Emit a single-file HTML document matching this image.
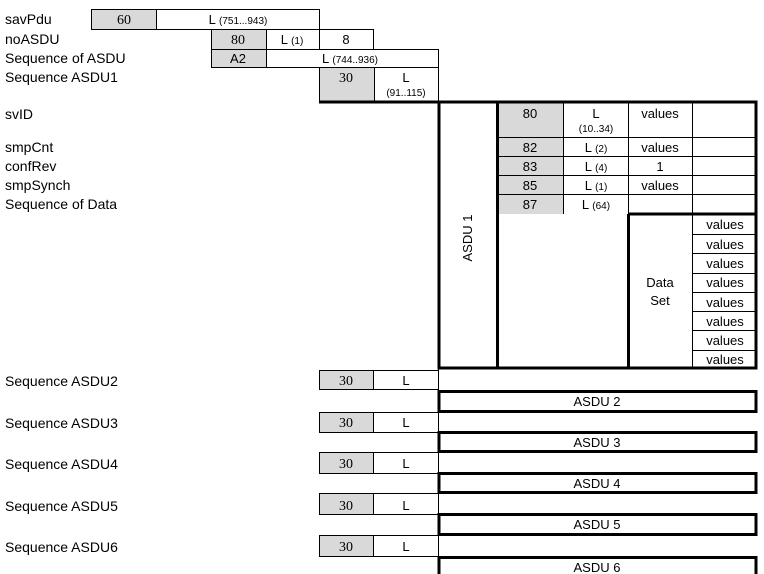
<!DOCTYPE html>
<html><head><meta charset="utf-8"><style>
html,body{margin:0;padding:0;background:#fff;}
svg{display:block;font-family:"Liberation Sans",sans-serif;font-size:13px;}
.s{font-size:10px;}
.sf{font-family:"Liberation Serif",serif;font-size:14px;}
.lb{font-size:14px;}
</style></head><body>
<svg width="764" height="574" viewBox="0 0 764 574" xmlns="http://www.w3.org/2000/svg">
<g fill="#d9d9d9" stroke="none">
<rect x="91" y="9" width="65" height="20"/>
<rect x="211" y="29" width="55" height="20"/>
<rect x="211" y="49" width="55" height="18"/>
<rect x="319" y="67" width="55" height="34"/>
<rect x="497" y="103" width="66" height="111"/>
<rect x="319" y="370" width="54" height="19"/>
<rect x="319" y="412" width="54" height="20"/>
<rect x="319" y="452" width="54" height="21"/>
<rect x="319" y="493" width="54" height="21"/>
<rect x="319" y="535" width="54" height="21"/>
</g>
<g stroke="#000" stroke-width="1" fill="none">
<rect x="91.5" y="9.5" width="228" height="20"/>
<line x1="156.5" y1="9" x2="156.5" y2="29"/>
<rect x="211.5" y="29.5" width="162" height="20"/>
<line x1="266.5" y1="29" x2="266.5" y2="49"/>
<line x1="319.5" y1="29" x2="319.5" y2="49"/>
<rect x="211.5" y="49.5" width="227" height="18"/>
<line x1="266.5" y1="49" x2="266.5" y2="67"/>
<rect x="319.5" y="67.5" width="119" height="34"/>
<line x1="374.5" y1="67" x2="374.5" y2="101"/>
<line x1="497" y1="137.5" x2="756" y2="137.5"/>
<line x1="497" y1="156.5" x2="756" y2="156.5"/>
<line x1="497" y1="175.5" x2="756" y2="175.5"/>
<line x1="497" y1="194.5" x2="756" y2="194.5"/>
<line x1="563.5" y1="103" x2="563.5" y2="214"/>
<line x1="628.5" y1="103" x2="628.5" y2="214"/>
<line x1="692.5" y1="103" x2="692.5" y2="368"/>
<line x1="692" y1="234.5" x2="756" y2="234.5"/>
<line x1="692" y1="253.5" x2="756" y2="253.5"/>
<line x1="692" y1="273.5" x2="756" y2="273.5"/>
<line x1="692" y1="292.5" x2="756" y2="292.5"/>
<line x1="692" y1="311.5" x2="756" y2="311.5"/>
<line x1="692" y1="330.5" x2="756" y2="330.5"/>
<line x1="692" y1="350.5" x2="756" y2="350.5"/>
<line x1="438.5" y1="368" x2="438.5" y2="574"/>
<g>
<path d="M319.5 389 V370.5 H438 M319 389.5 H438 M373.5 370 V389"/>
<path d="M319.5 432 V412.5 H438 M319 432.5 H438 M373.5 412 V432"/>
<path d="M319.5 473 V452.5 H438 M319 473.5 H438 M373.5 452 V473"/>
<path d="M319.5 514 V493.5 H438 M319 514.5 H438 M373.5 493 V514"/>
<path d="M319.5 556 V535.5 H438 M319 556.5 H438 M373.5 535 V556"/>
</g>
</g>
<g stroke="#000" stroke-width="3" fill="none">
<line x1="319" y1="102" x2="757" y2="102"/>
<rect x="439" y="102" width="317" height="266"/>
<line x1="497.5" y1="102" x2="497.5" y2="368"/>
<line x1="628" y1="214" x2="756" y2="214"/>
<line x1="628.5" y1="214" x2="628.5" y2="368"/>
<rect x="439" y="391.5" width="317" height="20"/>
<rect x="439" y="432.5" width="317" height="19"/>
<rect x="439" y="473.5" width="317" height="19"/>
<rect x="439" y="514.5" width="317" height="20"/>
<path d="M439 576 V557.5 H756 V576"/>
</g>
<g fill="#000">
<g class="lb">
<text x="5" y="24">savPdu</text>
<text x="5" y="44">noASDU</text>
<text x="5" y="63">Sequence of ASDU</text>
<text x="5" y="82">Sequence ASDU1</text>
<text x="5" y="119">svID</text>
<text x="5" y="152">smpCnt</text>
<text x="5" y="171">confRev</text>
<text x="5" y="190">smpSynch</text>
<text x="5" y="209">Sequence of Data</text>
<text x="5" y="386">Sequence ASDU2</text>
<text x="5" y="428">Sequence ASDU3</text>
<text x="5" y="469">Sequence ASDU4</text>
<text x="5" y="511">Sequence ASDU5</text>
<text x="5" y="552">Sequence ASDU6</text>
</g>
<g text-anchor="middle">
<text class="sf" x="124" y="24">60</text>
<text x="238" y="24">L <tspan class="s">(751...943)</tspan></text>
<text class="sf" x="238" y="44">80</text>
<text x="292" y="44">L <tspan class="s">(1)</tspan></text>
<text x="346" y="44">8</text>
<text x="238" y="63">A2</text>
<text x="350" y="63">L <tspan class="s">(744..936)</tspan></text>
<text class="sf" x="346" y="82">30</text>
<text x="406" y="82">L</text>
<text class="s" x="406" y="96">(91..115)</text>
<text x="530" y="118">80</text>
<text x="596" y="118">L</text>
<text class="s" x="596" y="132">(10..34)</text>
<text x="660" y="118">values</text>
<text x="530" y="152">82</text>
<text x="596" y="152">L <tspan class="s">(2)</tspan></text>
<text x="660" y="152">values</text>
<text x="530" y="171">83</text>
<text x="596" y="171">L <tspan class="s">(4)</tspan></text>
<text x="660" y="171">1</text>
<text x="530" y="190">85</text>
<text x="596" y="190">L <tspan class="s">(1)</tspan></text>
<text x="660" y="190">values</text>
<text x="530" y="209">87</text>
<text x="596" y="209">L <tspan class="s">(64)</tspan></text>
<text x="660" y="287">Data</text>
<text x="660" y="305">Set</text>
<text x="725" y="229">values</text>
<text x="725" y="249">values</text>
<text x="725" y="268">values</text>
<text x="725" y="287">values</text>
<text x="725" y="307">values</text>
<text x="725" y="326">values</text>
<text x="725" y="345">values</text>
<text x="725" y="364">values</text>
<text transform="translate(472,238) rotate(-90)">ASDU 1</text>
<text class="sf" x="346" y="385">30</text><text x="406" y="385">L</text>
<text class="sf" x="346" y="427">30</text><text x="406" y="427">L</text>
<text class="sf" x="346" y="468">30</text><text x="406" y="468">L</text>
<text class="sf" x="346" y="510">30</text><text x="406" y="510">L</text>
<text class="sf" x="346" y="551">30</text><text x="406" y="551">L</text>
<text x="597" y="406">ASDU 2</text>
<text x="597" y="447">ASDU 3</text>
<text x="597" y="488">ASDU 4</text>
<text x="597" y="529">ASDU 5</text>
<text x="597" y="572">ASDU 6</text>
</g>
</g>
</svg>
</body></html>
